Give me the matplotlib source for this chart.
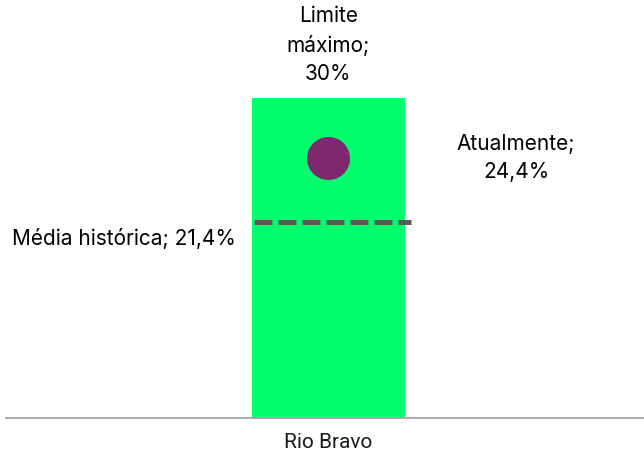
import matplotlib.pyplot as plt

plt.rcParams['font.family'] = ['Inter', 'DejaVu Sans']

# data
categories = ["Rio Bravo"]
limite = [30]
atual = [24.4]
media = [21.4]

W, H, DPI = 644, 454, 100
fig = plt.figure(figsize=(W / DPI, H / DPI), dpi=DPI)
ax = fig.add_axes([6 / W, 36 / H, 638 / W, 320 / H])

x = [0]
ax.bar(x, limite, width=0.48, color="#00FF6E", zorder=1)
ax.plot(x, atual, "o", ms=30, color="#7F2870", zorder=3)
ax.set_xlim(-1.01, 0.99)
ax.set_ylim(0, 30)

# historical average is on a secondary axis in the original
ax2 = ax.twinx()
ax2.set_ylim(0, 35)
ax2.hlines(media, -0.234, 0.259, colors="#595959", linewidth=3.6,
           linestyles=(0, (3.6, 1.2)), capstyle="butt")
ax2.axis("off")

for s in ["top", "left", "right"]:
    ax.spines[s].set_visible(False)
ax.spines["bottom"].set_color("#A6A6A6")
ax.spines["bottom"].set_linewidth(1.3)
ax.set_yticks([])
ax.set_xticks(x)
ax.set_xticklabels(categories, fontsize=15, family=["Roboto", "DejaVu Sans"],
                   color="#1a1a1a")
ax.tick_params(axis="x", length=0, pad=11)

fs = 15
ax.annotate("Limite\nmáximo;\n30%", xy=(0, limite[0]), xytext=(0, 14),
            textcoords="offset pixels", ha="center", va="bottom",
            fontsize=fs, linespacing=1.5, annotation_clip=False)
ax.annotate("Atualmente;\n24,4%", xy=(0, atual[0]), xytext=(188, 0),
            textcoords="offset pixels", ha="center", va="center",
            fontsize=fs, linespacing=1.5, annotation_clip=False)
ax2.annotate("Média histórica; 21,4%", xy=(0, media[0]), xytext=(-316, -16),
             textcoords="offset pixels", ha="left", va="center",
             fontsize=fs, annotation_clip=False)

fig.savefig("out.png", dpi=DPI)
